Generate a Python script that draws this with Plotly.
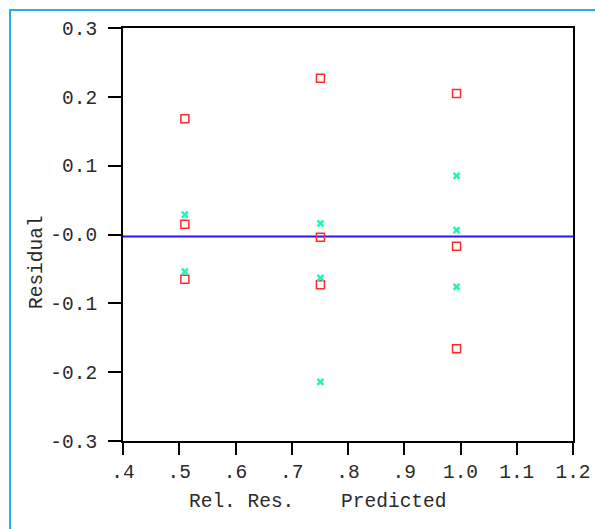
import plotly.graph_objects as go

# Data
rel_res_x = [0.510, 0.510, 0.510, 0.751, 0.751, 0.751, 0.993, 0.993, 0.993]
rel_res_y = [0.168, 0.015, -0.065, 0.227, -0.004, -0.073, 0.205, -0.017, -0.166]
pred_x = [0.510, 0.510, 0.751, 0.751, 0.751, 0.993, 0.993, 0.993]
pred_y = [0.029, -0.054, 0.016, -0.063, -0.214, 0.085, 0.0065, -0.076]
ref_line_x = [0.4, 1.2]
ref_line_y = [-0.003, -0.003]

x_tickvals = [0.4, 0.5, 0.6, 0.7, 0.8, 0.9, 1.0, 1.1, 1.2]
x_ticktext = [".4", ".5", ".6", ".7", ".8", ".9", "1.0", "1.1", "1.2"]
y_tickvals = [0.3, 0.2, 0.1, 0.0, -0.1, -0.2, -0.3]
y_ticktext = ["0.3", "0.2", "0.1", "-0.0", "-0.1", "-0.2", "-0.3"]

FONT = "Liberation Mono, Courier New, monospace"
FS = 19.5
TXT = "#2a2a2a"

fig = go.Figure()
fig.add_trace(go.Scatter(x=ref_line_x, y=ref_line_y, mode="lines",
                         line=dict(color="#2a14ff", width=2), showlegend=False))
fig.add_trace(go.Scatter(x=rel_res_x, y=rel_res_y, mode="markers",
                         marker=dict(symbol="square-open", size=8, color="#ff2a2a",
                                     line=dict(width=1.5, color="#ff2a2a")),
                         showlegend=False))
fig.add_trace(go.Scatter(x=pred_x, y=pred_y, mode="markers",
                         marker=dict(symbol="x-thin-open", size=6, color="#26f0bc",
                                     line=dict(width=2.5, color="#26f0bc")),
                         showlegend=False))

L, R, T, B = 123, 22, 28, 88
W, H = 595, 529
pw, ph = W - L - R, H - T - B

def px_x(px):
    return (px - L) / pw

def px_y(py):
    return (H - B - py) / ph

fig.update_layout(
    width=W, height=H,
    margin=dict(l=L, r=R, t=T, b=B, pad=0, autoexpand=False),
    paper_bgcolor="white", plot_bgcolor="white",
    font=dict(family=FONT, size=FS, color=TXT),
    xaxis=dict(range=[0.4, 1.2], tickvals=x_tickvals, ticktext=x_ticktext,
               showgrid=False, zeroline=False, showline=True, linecolor="black",
               linewidth=2, mirror=True, ticks="outside", ticklen=12, tickwidth=2,
               tickcolor="black", ticklabelstandoff=0),
    yaxis=dict(range=[-0.3, 0.3], tickvals=y_tickvals, ticktext=y_ticktext,
               showgrid=False, zeroline=False, showline=True, linecolor="black",
               linewidth=2, mirror=True, ticks="outside", ticklen=13, tickwidth=2,
               tickcolor="black", ticklabelstandoff=7),
    shapes=[dict(type="rect", xref="paper", yref="paper",
                 x0=px_x(10), x1=px_x(610), y0=px_y(550), y1=px_y(10),
                 line=dict(color="#19b6ea", width=2), fillcolor="rgba(0,0,0,0)",
                 layer="below")],
    annotations=[
        dict(text="Rel.\u00a0Res.\u00a0\u00a0\u00a0\u00a0Predicted", xref="paper", yref="paper",
             x=px_x(317), y=px_y(502), showarrow=False,
             font=dict(family=FONT, size=FS, color=TXT),
             xanchor="center", yanchor="middle"),
        dict(text="Residual", xref="paper", yref="paper",
             x=px_x(37), y=px_y(262), showarrow=False, textangle=-90,
             font=dict(family=FONT, size=FS, color=TXT),
             xanchor="center", yanchor="middle"),
    ],
)

fig.write_html("out.html")
